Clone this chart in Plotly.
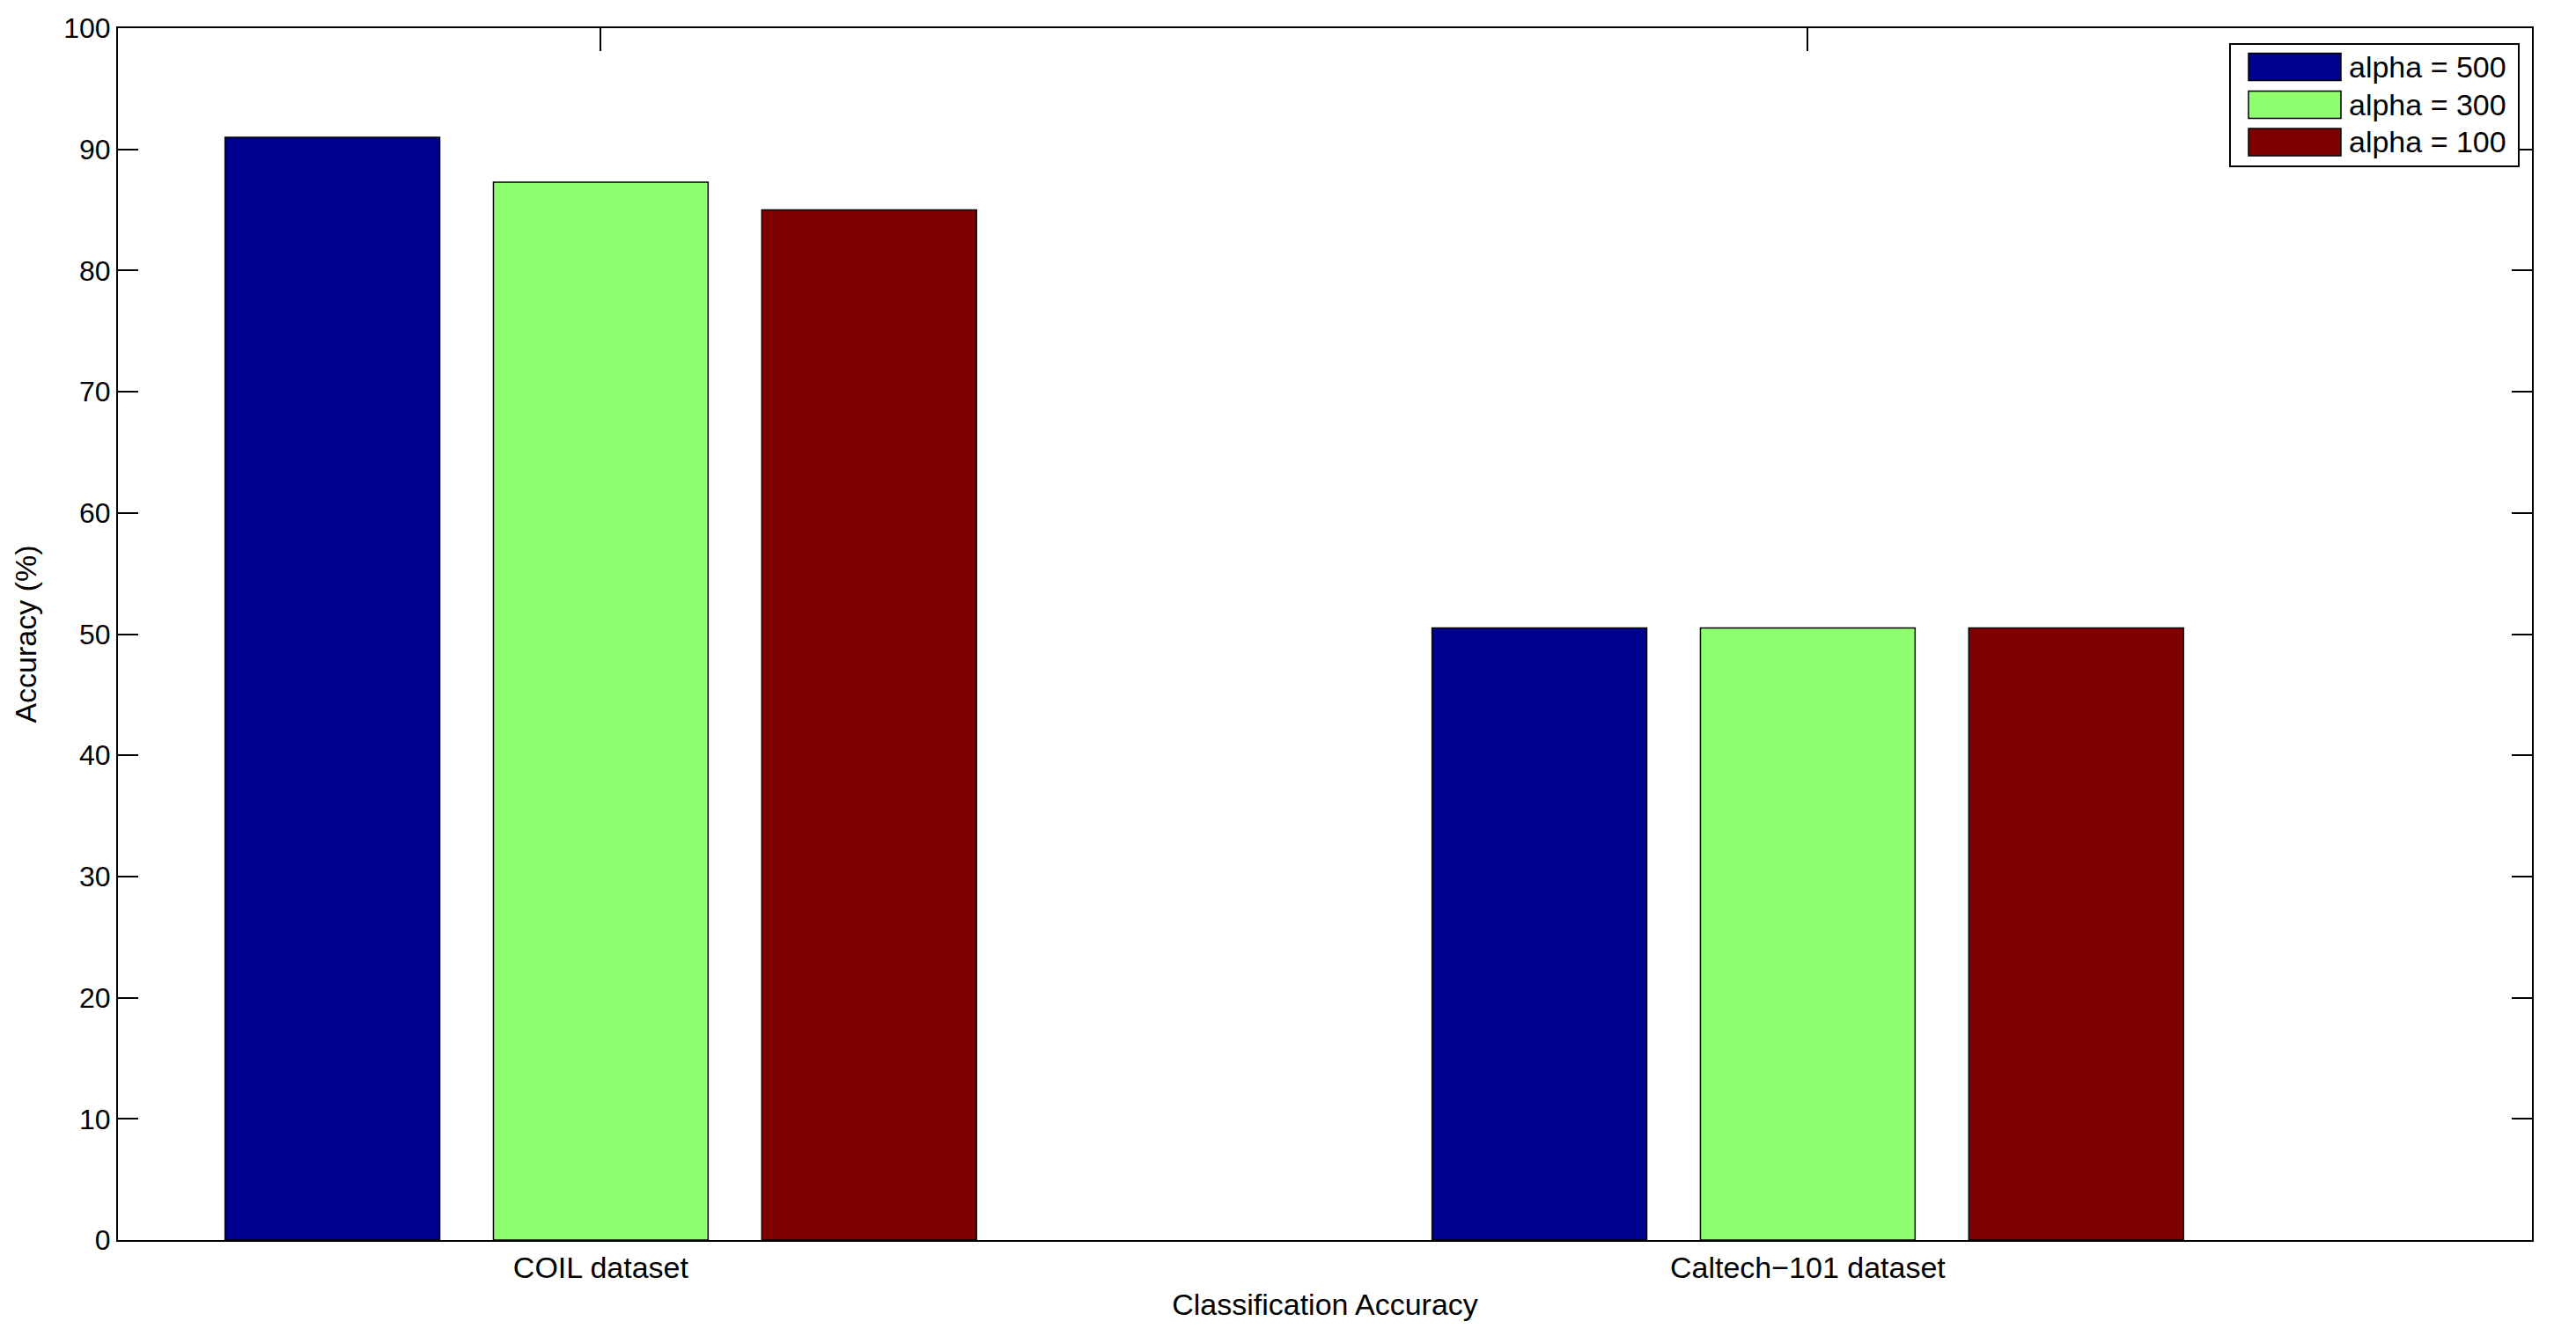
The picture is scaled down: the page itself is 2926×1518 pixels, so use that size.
import plotly.graph_objects as go

categories = ["COIL dataset", "Caltech\u2212101 dataset"]
cat_pos = [1, 2]
series_names = ["alpha = 500", "alpha = 300", "alpha = 100"]
series_colors = ["#00008F", "#8FFF70", "#800000"]
values_500 = [91.0, 50.5]
values_300 = [87.3, 50.5]
values_100 = [85.0, 50.5]
series_values = [values_500, values_300, values_100]
y_ticks = [0, 10, 20, 30, 40, 50, 60, 70, 80, 90, 100]

W, H = 2926, 1518
OFF = 8  # default page body margin
ML, MR, MT, MB = 134, 50, 32, 109
FONT = "Liberation Sans, Arial, Helvetica, sans-serif"
FS = 32
FS_TXT = 34

fig = go.Figure()
for name, color, vals in zip(series_names, series_colors, series_values):
    fig.add_trace(go.Bar(
        x=cat_pos, y=vals, name=name,
        marker=dict(color=color, line=dict(color="black", width=1.5)),
        showlegend=False,
    ))

# manual MATLAB-style legend (paper coordinates computed from pixel layout)
pw = W - ML - MR
ph = H - MT - MB
def px(x):
    return (x - ML) / pw
def py(y):
    return (H - MB - y) / ph

box = (2533, 50, 2861, 189)
fig.add_shape(type="rect", xref="paper", yref="paper",
              x0=px(box[0]), x1=px(box[2]), y0=py(box[3]), y1=py(box[1]),
              line=dict(color="black", width=2), fillcolor="white", layer="above")
row_centers = [76, 119, 161.5]
for name, color, yc in zip(series_names, series_colors, row_centers):
    fig.add_shape(type="rect", xref="paper", yref="paper",
                  x0=px(2554), x1=px(2659), y0=py(yc + 15.5), y1=py(yc - 15.5),
                  line=dict(color="black", width=1.5), fillcolor=color, layer="above")
    fig.add_annotation(xref="paper", yref="paper", x=px(2666), y=py(yc),
                       text=name, showarrow=False, xanchor="left", yanchor="middle",
                       font=dict(family=FONT, size=FS_TXT, color="black"))

fig.update_layout(
    width=W - OFF, height=H - OFF,
    margin=dict(l=ML - OFF, r=MR, t=MT - OFF, b=MB, autoexpand=False),
    paper_bgcolor="white", plot_bgcolor="white",
    barmode="group", bargap=0.333, bargroupgap=0.2,
    font=dict(family=FONT, size=FS, color="black"),
    showlegend=False,
)
fig.update_xaxes(
    range=[0.6, 2.6], tickmode="array", tickvals=cat_pos, ticktext=categories,
    ticks="inside", ticklen=26, tickwidth=1.5, tickcolor="black",
    showline=True, linecolor="black", linewidth=2, mirror="ticks",
    showgrid=False, zeroline=False, layer="below traces",
    tickfont=dict(family=FONT, size=FS_TXT, color="black"),
    title=dict(text="Classification Accuracy", standoff=12,
               font=dict(family=FONT, size=FS_TXT, color="black")),
)
fig.update_yaxes(
    range=[0, 100], tickmode="array", tickvals=y_ticks,
    ticks="inside", ticklen=23, tickwidth=1.5, tickcolor="black",
    showline=True, linecolor="black", linewidth=2, mirror="ticks",
    showgrid=False, zeroline=False,
    tickfont=dict(family=FONT, size=FS, color="black"),
    title=dict(text="Accuracy (%)", standoff=20,
               font=dict(family=FONT, size=FS_TXT, color="black")),
)

fig.write_html("out.html")
